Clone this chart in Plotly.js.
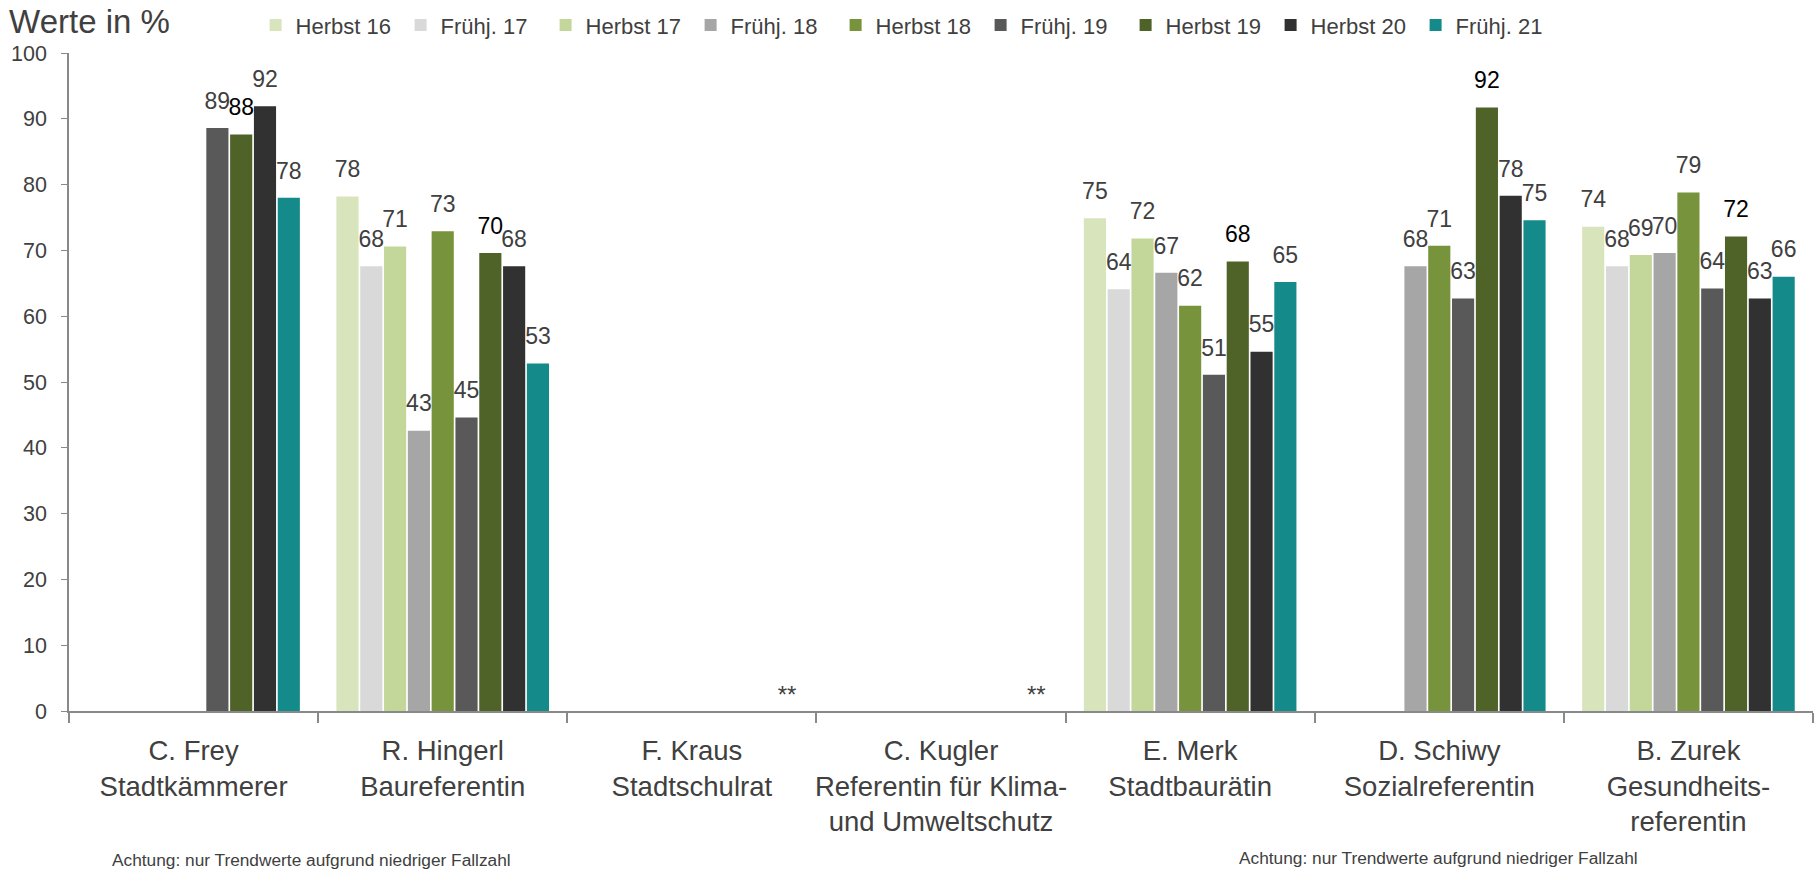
<!DOCTYPE html>
<html>
<head>
<meta charset="utf-8">
<script src="https://cdn.plot.ly/plotly-3.0.1.min.js"></script>
<style>
  html, body { margin: 0; padding: 0; background: #ffffff; }
  #chart { width: 1816px; height: 873px; }
</style>
</head>
<body>
<div id="chart"></div>
<script>
// Categories (x axis)
const categories = [
  "C. Frey<br>Stadtkämmerer",
  "R. Hingerl<br>Baureferentin",
  "F. Kraus<br>Stadtschulrat",
  "C. Kugler<br>Referentin für Klima-<br>und Umweltschutz",
  "E. Merk<br>Stadtbaurätin",
  "D. Schiwy<br>Sozialreferentin",
  "B. Zurek<br>Gesundheits-<br>referentin"
];

// Series names
const seriesNames = ["Herbst 16", "Frühj. 17", "Herbst 17", "Frühj. 18", "Herbst 18", "Frühj. 19", "Herbst 19", "Herbst 20", "Frühj. 21"];

// Series values (null = no value; 0 = marked with ** )
const herbst16 = [null, 78.2, null, null, 74.9, null, 73.6];
const fruehj17 = [null, 67.6, null, null, 64.1, null, 67.6];
const herbst17 = [null, 70.6, null, null, 71.8, null, 69.3];
const fruehj18 = [null, 42.6, null, null, 66.6, 67.6, 69.6];
const herbst18 = [null, 72.9, null, null, 61.6, 70.7, 78.8];
const fruehj19 = [88.6, 44.6, null, null, 51.1, 62.7, 64.2];
const herbst19 = [87.6, 69.6, null, null, 68.3, 91.7, 72.1];
const herbst20 = [91.9, 67.6, null, null, 54.6, 78.3, 62.7];
const fruehj21 = [78.0, 52.8, 0, 0, 65.2, 74.6, 66.0];

// Y axis ticks
const yTicks = [0, 10, 20, 30, 40, 50, 60, 70, 80, 90, 100];

const allSeries = [herbst16, fruehj17, herbst17, fruehj18, herbst18, fruehj19, herbst19, herbst20, fruehj21];
const colors = ["#d8e4bc", "#d9d9d9", "#c4d79b", "#a6a6a6", "#77933c", "#595959", "#4f6228", "#313131", "#158a8a"];
const labelColors = ["#404040", "#404040", "#404040", "#404040", "#404040", "#404040", "#000000", "#404040", "#404040"];

const FONT = "'Liberation Sans', Arial, sans-serif";

const barTraces = allSeries.map((vals, i) => ({
  type: "bar",
  name: seriesNames[i],
  x: categories,
  y: vals,
  offsetgroup: "g" + i,
  marker: { color: colors[i], line: { width: 0 } },
  hoverinfo: "x+y+name"
}));

// Value labels, placed by the library at each bar's group position
const labelTraces = allSeries.map((vals, i) => ({
  type: "scatter",
  mode: "markers+text",
  name: seriesNames[i],
  showlegend: false,
  hoverinfo: "skip",
  x: categories,
  y: vals,
  offsetgroup: "g" + i,
  text: vals.map(v => v === null ? "" : (v === 0 ? "**" : String(Math.round(v)))),
  textposition: "top center",
  cliponaxis: false,
  marker: {
    color: "rgba(0,0,0,0)",
    opacity: 0,
    size: vals.map(v => v === 0 ? 1 : 20),
    line: { width: 0, color: "rgba(0,0,0,0)" }
  },
  textfont: {
    family: FONT,
    size: vals.map(v => v === 0 ? 24 : 23),
    color: labelColors[i]
  }
}));

const layout = {
  width: 1816,
  height: 873,
  margin: { l: 69, r: 3, t: 53, b: 162 },
  paper_bgcolor: "#ffffff",
  plot_bgcolor: "#ffffff",
  font: { family: FONT, color: "#404040" },
  barmode: "group",
  bargap: 0.14,
  bargroupgap: 0.07,
  scattermode: "group",
  scattergap: 0.14,
  hovermode: "closest",
  title: {
    text: "Werte in %",
    font: { family: FONT, size: 33, color: "#404040" },
    xref: "container", yref: "container",
    x: 0.005, xanchor: "left",
    y: 0.975, yanchor: "middle"
  },
  showlegend: true,
  legend: {
    orientation: "h",
    xref: "paper", yref: "container",
    x: 0.107, xanchor: "left",
    y: 0.971, yanchor: "middle",
    font: { family: FONT, size: 22, color: "#404040" },
    entrywidth: 100,
    entrywidthmode: "pixels",
    traceorder: "normal",
    bgcolor: "rgba(0,0,0,0)"
  },
  xaxis: {
    type: "category",
    showline: true,
    linecolor: "#898989",
    linewidth: 1.5,
    ticks: "outside",
    tickson: "boundaries",
    ticklen: 10,
    tickcolor: "#898989",
    tickwidth: 1.5,
    tickangle: 0,
    showgrid: false,
    zeroline: false,
    tickfont: { family: FONT, size: 27.5, color: "#404040" },
    ticklabelstandoff: 14,
    fixedrange: true
  },
  yaxis: {
    range: [0, 100],
    tickvals: yTicks,
    ticktext: yTicks.map(String),
    showline: true,
    linecolor: "#898989",
    linewidth: 1.5,
    ticks: "outside",
    ticklen: 6,
    tickcolor: "#898989",
    showgrid: false,
    zeroline: false,
    tickfont: { family: FONT, size: 21.5, color: "#404040" },
    ticklabelstandoff: 10,
    fixedrange: true
  },
  annotations: [
    {
      text: "Achtung: nur Trendwerte aufgrund niedriger Fallzahl",
      xref: "paper", yref: "paper",
      x: 0.0235, xanchor: "left",
      y: -0.2264, yanchor: "middle",
      showarrow: false,
      font: { family: FONT, size: 17.3, color: "#404040" }
    },
    {
      text: "Achtung: nur Trendwerte aufgrund niedriger Fallzahl",
      xref: "paper", yref: "paper",
      x: 0.67, xanchor: "left",
      y: -0.223, yanchor: "middle",
      showarrow: false,
      font: { family: FONT, size: 17.3, color: "#404040" }
    }
  ]
};

Plotly.newPlot("chart", barTraces.concat(labelTraces), layout, { displayModeBar: false, responsive: false });
</script>
</body>
</html>
